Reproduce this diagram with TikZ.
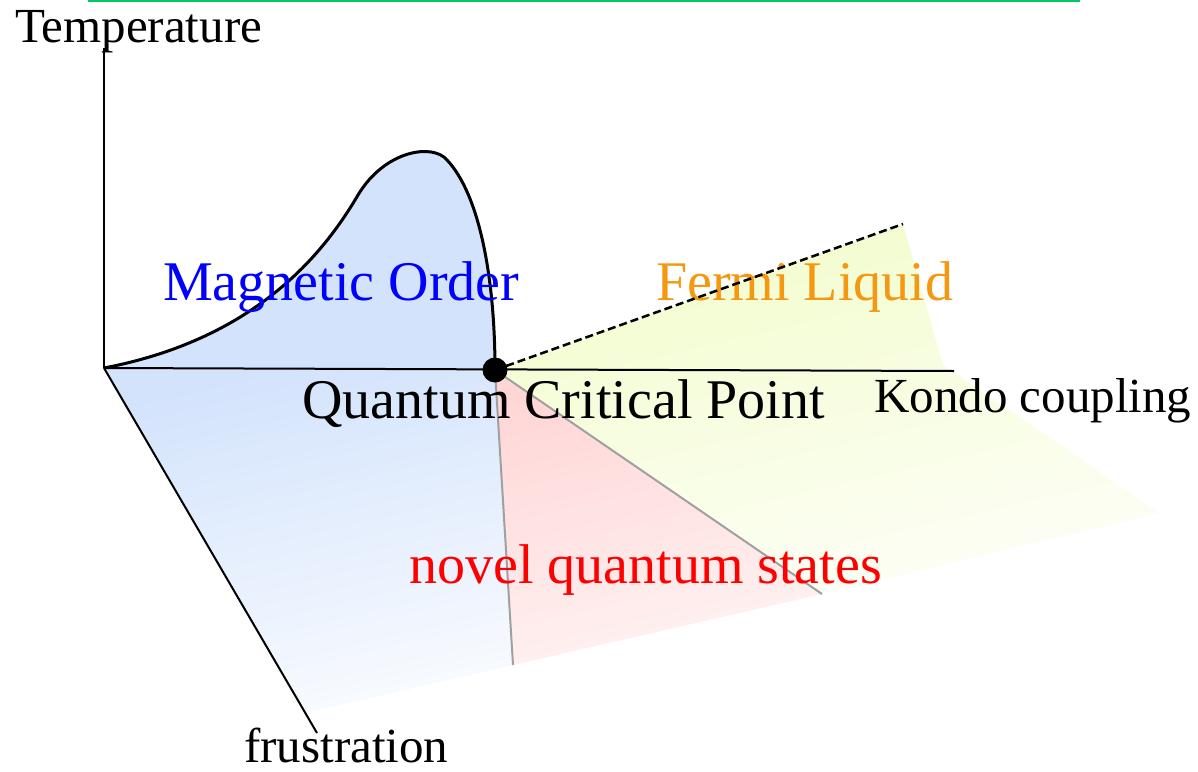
\documentclass[tikz,border=0pt]{standalone}
\usepackage{fontspec}
\setmainfont{Liberation Serif}
\usetikzlibrary{positioning}
\definecolor{orderblue}{RGB}{211,227,252}
\definecolor{novelpink}{RGB}{255,214,214}
\definecolor{fermiyellow}{RGB}{242,252,204}
\definecolor{fermiorange}{RGB}{244,152,18}
\definecolor{topgreen}{RGB}{0,200,100}
\definecolor{edgegray}{RGB}{160,160,160}

\begin{document}
\begin{tikzpicture}[x=1pt,y=-1pt,
   axis/.style={line width=2pt},
   phaseline/.style={line width=3pt,line join=round},
   regionedge/.style={line width=2pt,draw=edgegray},
   crossover/.style={line width=2.5pt,dash pattern=on 8pt off 4pt},
   biglabel/.style={font=\fontsize{56}{60}\selectfont,inner sep=0pt,anchor=base west},
   axislabel/.style={font=\fontsize{49}{52}\selectfont,inner sep=0pt,anchor=base west}]
  \useasboundingbox (0,0) rectangle (1198,771);
  % corner points of the phase diagram
  \coordinate (o) at (104,368);
  \coordinate (qcp) at (495,370);
  \coordinate (tmax) at (104,48);
  \coordinate (kmax) at (954,371);
  \coordinate (fmax) at (317,733);
  \coordinate (bl) at (305,713);
  \coordinate (bm) at (513,665);
  \coordinate (br) at (822,594);
  \coordinate (ytop) at (903,224);
  \coordinate (ymid) at (943,365);
  \coordinate (yend) at (1160,513);
  \coordinate (gl) at (88,1);
  \coordinate (gr) at (1080,1);
  % shaded regions
  \shade[top color=orderblue,middle color=orderblue!70!white,bottom color=orderblue!15!white,shading angle=13] (o)--(qcp)--(bm)--(bl)--cycle;
  \shade[top color=novelpink,middle color=novelpink!80!white,bottom color=novelpink!30!white,shading angle=13] (qcp)--(br)--(bm)--cycle;
  \shade[top color=fermiyellow,middle color=fermiyellow!75!white,bottom color=fermiyellow!15!white,shading angle=13] (qcp)--(ytop)--(ymid)--(yend)--(br)--cycle;
  \fill[orderblue] (o) .. controls (250,340) and (320,260) .. (358,195)
     .. controls (385,150) and (433,143) .. (447,160)
     .. controls (480,195) and (495,280) .. (qcp) -- cycle;
  % axes
  \draw[topgreen,line width=2pt] (gl) -- (gr);
  \draw[axis] (o) -- (tmax);
  \draw[axis] (o) -- (kmax);
  \draw[axis] (o) -- (fmax);
  % boundaries
  \draw[regionedge] (qcp) -- (bm);
  \draw[regionedge] (qcp) -- (br);
  \draw[phaseline] (o) .. controls (250,340) and (320,260) .. (358,195)
     .. controls (385,150) and (433,143) .. (447,160)
     .. controls (480,195) and (495,280) .. (qcp);
  % labels
  \node[biglabel,text=blue] (magorder) at (163,300) {Magnetic Order};
  \node[biglabel,text=fermiorange] (fermi) at (656,300) {Fermi Liquid};
  \node[biglabel] (qcplabel) at (302,418) {Quantum Critical Point};
  \node[biglabel,text=red] (novel) at (409,583) {novel quantum states};
  \node[axislabel] (templabel) at (15,42) {Temperature};
  \node[axislabel] (kondolabel) at (874,412) {Kondo coupling};
  \node[axislabel] (frustlabel) at (244,762) {frustration};
  \draw[crossover] (qcp) -- (ytop);
  \node[circle,fill=black,inner sep=0pt,minimum size=25pt] (qcpdot) at (qcp) {};
\end{tikzpicture}
\end{document}
